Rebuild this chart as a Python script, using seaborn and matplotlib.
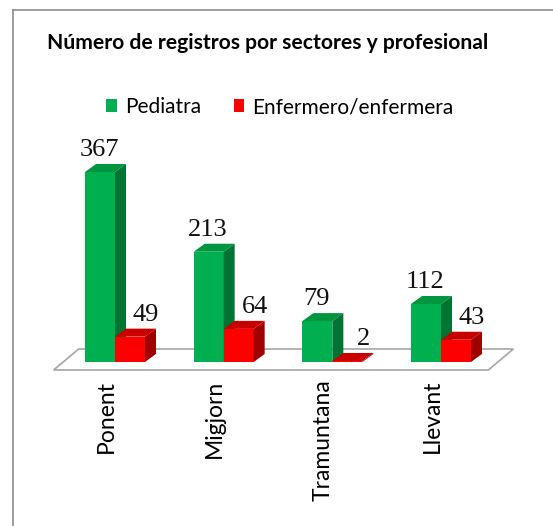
import numpy as np
import pandas as pd
import seaborn as sns
import matplotlib.pyplot as plt
from matplotlib.patches import Polygon, Patch
from matplotlib.lines import Line2D
from matplotlib.transforms import ScaledTranslation

# =============================================================================
# Data
# =============================================================================

sectors = ["Ponent", "Migjorn", "Tramuntana", "Llevant"]
professions = ["Pediatra", "Enfermero/enfermera"]
pediatra = [367, 213, 79, 112]
enfermeria = [49, 64, 2, 43]

title = "Número de registros por sectores y profesional"

front_colors = {"Pediatra": "#00B050", "Enfermero/enfermera": "#FF0000"}
top_colors = {"Pediatra": "#00953F", "Enfermero/enfermera": "#C80000"}
side_colors = {"Pediatra": "#007432", "Enfermero/enfermera": "#A00000"}

df = pd.DataFrame({
    "Sector": sectors * 2,
    "Profesional": [professions[0]] * 4 + [professions[1]] * 4,
    "Registros": pediatra + enfermeria,
})

# =============================================================================
# Figure
# =============================================================================

W, H = 553, 526
fig = plt.figure(figsize=(W / 100, H / 100), dpi=100)
ax = fig.add_axes([40 / W, (H - 370) / H, 500 / W, 250 / H])

sns.barplot(
    data=df,
    x="Sector",
    y="Registros",
    hue="Profesional",
    order=sectors,
    hue_order=professions,
    palette=front_colors,
    saturation=1,
    width=0.552,
    errorbar=None,
    legend=False,
    ax=ax,
)

ppu_y = 190 / 367          # pixels per unit (value axis)
ppu_x = 108.67             # pixels per category
ax.set_ylim(-8 / ppu_y, 242 / ppu_y)
ax.set_xlim(-75 / ppu_x, 425 / ppu_x)

# depth of the fake 3D bars, in pixels
depth_x, depth_y = 11, 8
dx = depth_x / ppu_x
dy = depth_y / ppu_y

# floor (drawn under the bars)
fx0, fx1 = -0.5, len(sectors) - 0.5
floor = Polygon(
    [
        (fx0 - 7 / ppu_x, -8 / ppu_y),
        (fx1 - 7 / ppu_x, -8 / ppu_y),
        (fx1 + 18 / ppu_x, 13 / ppu_y),
        (fx0 + 18 / ppu_x, 13 / ppu_y),
    ],
    closed=True, facecolor="white", edgecolor="#A6A6A6",
    linewidth=1.2, zorder=1, clip_on=False,
)
ax.add_patch(floor)

label_shift = {"Pediatra": -1, "Enfermero/enfermera": 16}

for i, (prof, container) in enumerate(zip(professions, ax.containers)):
    z = 2 + i
    for bar, val in zip(container, container.datavalues):
        bar.set_zorder(z)
        x0 = bar.get_x()
        w = bar.get_width()
        h = bar.get_height()

        top = Polygon(
            [(x0, h), (x0 + dx, h + dy), (x0 + w + dx, h + dy), (x0 + w, h)],
            closed=True, facecolor=top_colors[prof], edgecolor="none",
            zorder=z, clip_on=False,
        )
        side = Polygon(
            [(x0 + w, 0), (x0 + w + dx, dy), (x0 + w + dx, h + dy), (x0 + w, h)],
            closed=True, facecolor=side_colors[prof], edgecolor="none",
            zorder=z, clip_on=False,
        )
        ax.add_patch(side)
        ax.add_patch(top)

        ax.annotate(
            f"{int(val)}",
            xy=(x0 + w / 2, h + dy),
            xytext=(label_shift[prof], 8),
            textcoords="offset pixels",
            ha="center", va="baseline",
            fontsize=19, family="Liberation Serif",
            color="#111111", zorder=10,
        )

# =============================================================================
# Axes styling
# =============================================================================

for spine in ax.spines.values():
    spine.set_visible(False)

ax.set_yticks([])
ax.set_xlabel("")
ax.set_ylabel("")
ax.set_xticks(range(len(sectors)))
ax.set_xticklabels(sectors, rotation=90, fontsize=16.5, family="Lato")
ax.tick_params(axis="x", length=0, pad=7)

for lab in ax.get_xticklabels():
    lab.set_transform(lab.get_transform() + ScaledTranslation(-9 / 100, 0, fig.dpi_scale_trans))

ax.patch.set_visible(False)

# title and legend
fig.text(268 / W, 1 - 49 / H, title, ha="center", va="baseline",
         fontsize=15.2, fontweight="bold", family="Lato")

handles = [Patch(facecolor=front_colors[p], edgecolor="none") for p in professions]
fig.legend(
    handles, professions,
    loc="center", bbox_to_anchor=(280 / W, 1 - 107 / H),
    ncol=2, frameon=False,
    prop={"family": "Lato", "size": 15},
    handlelength=0.5, handleheight=0.55,
    handletextpad=0.4, columnspacing=1.55,
)

# chart area border (top and left)
fig.add_artist(Line2D([13 / W, 1], [1 - 10 / H] * 2, transform=fig.transFigure,
                      color="#8C8C8C", linewidth=1.2))
fig.add_artist(Line2D([13 / W] * 2, [0, 1 - 10 / H], transform=fig.transFigure,
                      color="#8C8C8C", linewidth=1.2))

plt.savefig("out.png", dpi=100)
